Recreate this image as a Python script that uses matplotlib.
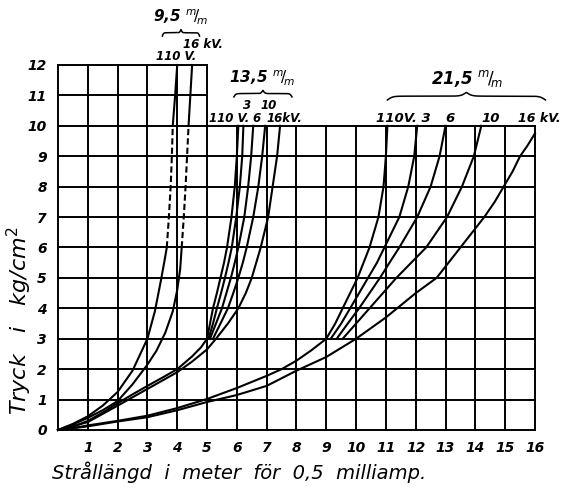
import numpy as np
import matplotlib
matplotlib.use("Agg")
import matplotlib.pyplot as plt

# x = stråll. (m), y = tryck (kg/cm2)

# 9,5 m/m  (each from origin, dashed middle part)
d95_110_x = [0, 0.5, 1, 1.5, 2.0, 2.5, 3.0, 3.25, 3.45, 3.58, 3.65]
d95_110_y = [0, 0.2, 0.45, 0.8, 1.25, 1.95, 3.0, 3.9, 4.9, 5.6, 6.0]
d95_110_dash_x = [3.65, 3.72, 3.78, 3.82, 3.85]
d95_110_dash_y = [6.0, 7.0, 8.0, 9.0, 10.0]
d95_110_top_x = [3.85, 3.93, 4.0]
d95_110_top_y = [10.0, 11.0, 12.0]

d95_16_x = [0, 0.5, 1, 1.5, 2.0, 2.5, 3.0, 3.3, 3.6, 3.85, 4.0, 4.1, 4.15]
d95_16_y = [0, 0.18, 0.4, 0.65, 0.95, 1.5, 2.15, 2.6, 3.2, 3.9, 4.6, 5.3, 6.0]
d95_16_dash_x = [4.15, 4.22, 4.28, 4.33, 4.38]
d95_16_dash_y = [6.0, 7.0, 8.0, 9.0, 10.0]
d95_16_top_x = [4.38, 4.44, 4.5]
d95_16_top_y = [10.0, 11.0, 12.0]

# 13,5 m/m  common part (110 V .. 10 kV) and 16 kV from origin
d135_common_x = [0, 0.5, 1, 1.5, 2, 2.5, 3, 3.5, 4, 4.5, 4.8, 5.0]
d135_common_y = [0, 0.1, 0.3, 0.57, 0.88, 1.17, 1.45, 1.72, 2.0, 2.42, 2.72, 3.0]
d135_16_x = [0, 1, 2, 3, 4, 4.5, 5, 5.3, 5.7, 6.05, 6.3, 6.5, 6.8, 7.05, 7.2, 7.35, 7.45]
d135_16_y = [0, 0.26, 0.8, 1.35, 1.9, 2.25, 2.65, 3.0, 3.5, 4.0, 4.5, 5.0, 6.0, 7.0,
             8.0, 9.0, 10.0]
d135_ys = [3.0, 3.5, 4.0, 4.5, 5.0, 5.5, 6.0, 7.0, 8.0, 9.0, 10.0]
d135_110 = [5.0, 5.1, 5.2, 5.33, 5.45, 5.57, 5.67, 5.82, 5.93, 6.0, 6.05]
d135_3 = [5.05, 5.2, 5.33, 5.47, 5.6, 5.72, 5.83, 5.98, 6.1, 6.18, 6.22]
d135_6 = [5.1, 5.3, 5.5, 5.65, 5.8, 5.93, 6.05, 6.25, 6.38, 6.48, 6.55]
d135_10 = [5.2, 5.45, 5.7, 5.88, 6.05, 6.2, 6.33, 6.55, 6.72, 6.85, 6.95]

# 21,5 m/m  common part (110 V .. 10 kV) and 16 kV from origin
d215_common_x = [0, 0.5, 1, 2, 3, 4, 5, 6, 7, 7.5, 8, 8.5, 9.0]
d215_common_y = [0, 0.06, 0.15, 0.3, 0.47, 0.72, 1.02, 1.38, 1.78, 2.0, 2.28, 2.62, 3.0]
d215_16_x = [0, 1, 2, 3, 4, 5, 6, 7, 8, 9, 10, 11, 12, 12.7, 13.1, 13.5, 13.9,
             14.3, 14.65, 14.95, 15.25, 15.5, 15.75, 16.0]
d215_16_y = [0, 0.12, 0.28, 0.42, 0.65, 0.92, 1.15, 1.45, 1.95, 2.4, 3.0, 3.7, 4.5,
             5.0, 5.5, 6.0, 6.5, 7.0, 7.5, 8.0, 8.5, 9.0, 9.35, 9.75]
d215_ys = [3.0, 3.5, 4.0, 4.5, 5.0, 5.5, 6.0, 7.0, 8.0, 9.0, 10.0]
d215_110 = [9.0, 9.3, 9.55, 9.8, 10.05, 10.25, 10.45, 10.75, 10.92, 11.0, 11.05]
d215_3 = [9.15, 9.5, 9.8, 10.1, 10.4, 10.7, 10.95, 11.45, 11.75, 11.95, 12.05]
d215_6 = [9.35, 9.72, 10.1, 10.45, 10.8, 11.12, 11.45, 12.05, 12.5, 12.8, 13.0]
d215_10 = [9.55, 10.0, 10.45, 10.9, 11.35, 11.85, 12.35, 13.05, 13.55, 13.95, 14.2]

xticks = list(range(1, 17))
yticks = list(range(0, 13))

LW = 1.5
fig = plt.figure(figsize=(5.64, 4.93), dpi=100)
ax = fig.add_axes([0.1028, 0.1278, 0.8457, 0.7404])
ax.set_xlim(0, 16)
ax.set_ylim(0, 12)
for s in ax.spines.values():
    s.set_visible(False)

# grid: tall part up to 12 only for 0..5
for xv in range(0, 17):
    ax.plot([xv, xv], [0, 12 if xv <= 5 else 10], color='black', lw=1.4,
            clip_on=False, zorder=1)
for yv in range(0, 13):
    ax.plot([0, 16 if yv <= 10 else 5], [yv, yv], color='black', lw=1.4,
            clip_on=False, zorder=1)

kw = dict(color='black', lw=LW, clip_on=False, zorder=3)
ax.plot(d95_110_x, d95_110_y, **kw)
ax.plot(d95_110_dash_x, d95_110_dash_y, ls=(0, (3, 1.5)), **kw)
ax.plot(d95_110_top_x, d95_110_top_y, **kw)
ax.plot(d95_16_x, d95_16_y, **kw)
ax.plot(d95_16_dash_x, d95_16_dash_y, ls=(0, (3, 1.5)), **kw)
ax.plot(d95_16_top_x, d95_16_top_y, **kw)

ax.plot(d135_common_x, d135_common_y, **kw)
ax.plot(d135_16_x, d135_16_y, **kw)
for c in [d135_110, d135_3, d135_6, d135_10]:
    ax.plot(c, d135_ys, **kw)

ax.plot(d215_common_x, d215_common_y, **kw)
ax.plot(d215_16_x, d215_16_y, **kw)
for c in [d215_110, d215_3, d215_6, d215_10]:
    ax.plot(c, d215_ys, **kw)

tf = dict(fontsize=10, fontstyle='italic', fontweight='bold')
ax.set_xticks(xticks)
ax.set_xticklabels([str(v) for v in xticks], **tf)
ax.set_yticks(yticks)
ax.set_yticklabels([str(v) for v in yticks], **tf)
ax.tick_params(length=0, pad=8)

ax.set_xlabel('Strållängd  i  meter  för  0,5  milliamp.', fontsize=14,
              fontstyle='italic')
ax.xaxis.set_label_coords(0.38, -0.085)
ax.set_ylabel('Tryck   i   kg/cm$^2$', fontsize=16, fontstyle='italic')
ax.yaxis.set_label_coords(-0.05, 0.3)


def brace(x0, x1, y, h):
    # overbrace drawn in data coords, tip pointing up
    t = np.linspace(x0, x1, 200)
    xm = (x0 + x1) / 2
    k = 60.0 / (x1 - x0)
    left = 1 / (1 + np.exp(-k * (t - x0))) + 1 / (1 + np.exp(-k * (t - xm)))
    right = 1 / (1 + np.exp(-k * (x1 - t))) + 1 / (1 + np.exp(-k * (xm - t)))
    yy = np.where(t < xm, left, right) - 0.5
    ax.plot(t, y + h * yy, color='black', lw=1.1, clip_on=False)


lab = dict(fontstyle='italic', fontweight='bold', ha='center', va='bottom',
           clip_on=False)
mm = r'$^{m}\!/\!_{m}$'
# 9,5
ax.text(4.1, 13.25, '9,5 ' + mm, fontsize=11, **lab)
brace(3.5, 4.75, 12.95, 0.22)
ax.text(4.85, 12.45, '16 kV.', fontsize=8.5, **lab)
ax.text(3.95, 12.05, '110 V.', fontsize=8.5, **lab)
# 13,5
ax.text(6.85, 11.25, '13,5 ' + mm, fontsize=11, **lab)
brace(5.9, 7.85, 10.95, 0.22)
ax.text(6.35, 10.45, '3', fontsize=8.5, **lab)
ax.text(7.05, 10.45, '10', fontsize=8.5, **lab)
ax.text(5.75, 10.03, '110 V.', fontsize=8.5, **lab)
ax.text(6.65, 10.03, '6', fontsize=8.5, **lab)
ax.text(7.6, 10.03, '16kV.', fontsize=8.5, **lab)
# 21,5
ax.text(13.7, 11.2, '21,5 ' + mm, fontsize=12, **lab)
brace(11.05, 16.35, 10.85, 0.25)
ax.text(11.6, 10.03, '110V. 3', fontsize=9.5, **lab)
ax.text(13.15, 10.03, '6', fontsize=9.5, **lab)
ax.text(14.5, 10.03, '10', fontsize=9.5, **lab)
ax.text(16.15, 10.03, '16 kV.', fontsize=9, **lab)

fig.savefig('out.png', dpi=100, facecolor='white')
